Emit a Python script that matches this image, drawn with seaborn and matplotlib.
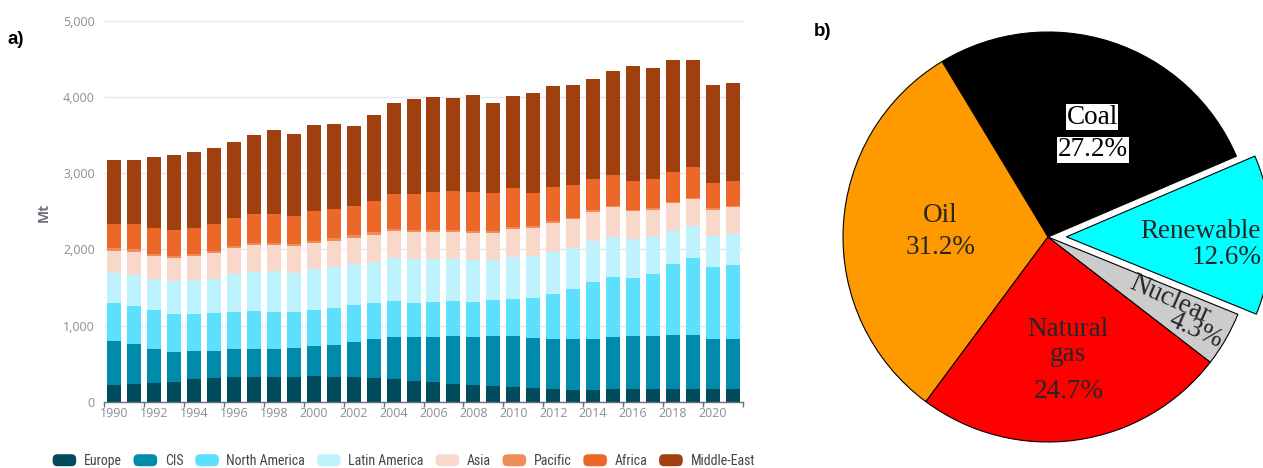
import matplotlib
matplotlib.use("Agg")
import matplotlib.pyplot as plt
from matplotlib import font_manager
from matplotlib.font_manager import FontProperties
from matplotlib.patches import FancyBboxPatch, Patch
from matplotlib.legend_handler import HandlerPatch
from matplotlib.ticker import FixedLocator, FuncFormatter
import pandas as pd
import seaborn as sns

# ---------------- data ----------------
years = list(range(1990, 2022))
regions = ["Europe", "CIS", "North America", "Latin America", "Asia", "Pacific", "Africa", "Middle-East"]

europe = [219, 232, 245, 262, 297, 315, 332, 332, 328, 332, 337, 328, 328, 310, 297, 275,
          258, 240, 227, 214, 197, 182, 170, 162, 162, 170, 175, 175, 170, 170, 175, 170]
cis = [581, 529, 454, 398, 367, 358, 359, 359, 363, 372, 397, 424, 459, 516, 560, 577,
       594, 626, 625, 647, 664, 662, 661, 669, 669, 678, 686, 686, 704, 704, 647, 661]
north_america = [503, 502, 503, 498, 494, 490, 494, 502, 494, 472, 477, 476, 485, 477, 472, 451,
                 459, 463, 459, 477, 494, 524, 590, 655, 743, 787, 765, 822, 931, 1015, 944, 966]
latin_america = [384, 403, 411, 425, 438, 454, 498, 516, 529, 520, 529, 542, 533, 537, 555, 568,
                 569, 546, 547, 529, 542, 544, 542, 538, 542, 533, 507, 481, 442, 419, 407, 402]
asia = [298, 306, 298, 302, 315, 333, 333, 346, 346, 346, 341, 346, 350, 350, 354, 355,
        355, 360, 355, 355, 369, 367, 386, 375, 380, 389, 371, 358, 358, 354, 349, 358]
pacific = [30, 30, 30, 30, 30, 30, 30, 30, 30, 30, 30, 30, 35, 35, 35, 25,
           25, 25, 25, 25, 25, 25, 20, 18, 18, 18, 18, 18, 18, 18, 18, 18]
africa = [324, 337, 345, 345, 345, 350, 371, 381, 380, 372, 389, 390, 385, 415, 459, 481,
          494, 507, 512, 494, 511, 437, 455, 429, 406, 398, 376, 389, 393, 406, 337, 319]
middle_east = [839, 839, 931, 984, 988, 997, 997, 1040, 1102, 1066, 1137, 1110, 1040, 1128, 1189, 1237,
               1246, 1224, 1272, 1180, 1207, 1309, 1316, 1311, 1320, 1372, 1504, 1456, 1474, 1395, 1276, 1294]

region_colors = ["#004b5c", "#008bab", "#5ce0fe", "#bef2fd", "#f8d8ca", "#f08c5a", "#eb6828", "#a0400f"]

sources = ["Coal", "Oil", "Natural\ngas", "Nuclear", "Renewable"]
shares = [27.2, 31.2, 24.7, 4.3, 12.6]
source_colors = ["#000000", "#ff9900", "#ff0000", "#cccccc", "#00ffff"]

# ---------------- style ----------------
sns.set_theme(style="white")
plt.rcParams["font.family"] = ["Open Sans", "DejaVu Sans"]


def narrow_font(size):
    """Look for a condensed sans face for the legend; fall back to Open Sans."""
    wanted = ["liberationsansnarrow-regular", "robotocondensed-regular", "opensans_condensed-regular",
              "opensanscondensed-regular", "dejavusanscondensed.ttf", "notosans-condensed"]
    files = [f.fname for f in font_manager.fontManager.ttflist]
    for key in wanted:
        for fn in files:
            if key in fn.lower().replace(" ", ""):
                return FontProperties(fname=fn, size=size), True
    for fn in files:
        low = fn.lower()
        if ("condensed" in low or "narrow" in low) and "bold" not in low and "italic" not in low \
                and "oblique" not in low and "light" not in low and "mono" not in low and "serif" not in low:
            return FontProperties(fname=fn, size=size), True
    return FontProperties(family=["Open Sans", "DejaVu Sans"], size=size - 1.3), False


W, H = 1263, 468
fig = plt.figure(figsize=(W / 100, H / 100), dpi=100)

# ---------------- a) stacked bars ----------------
x0, x1, y0, y1 = 104, 743, 402, 20.7
ax = fig.add_axes([x0 / W, (H - y0) / H, (x1 - x0) / W, (y0 - y1) / H])

df = pd.DataFrame({"Year": [str(y) for y in years], "Europe": europe, "CIS": cis,
                   "North America": north_america, "Latin America": latin_america,
                   "Asia": asia, "Pacific": pacific, "Africa": africa, "Middle-East": middle_east})
cum = df[regions].cumsum(axis=1)

# draw from the highest running total down so each layer sits on the ones beneath it
for reg, col in reversed(list(zip(regions, region_colors))):
    sns.barplot(x=df["Year"], y=cum[reg], color=col, saturation=1, width=0.7,
                errorbar=None, ax=ax, linewidth=0)

ax.set_xlim(-0.5, 31.5)
ax.set_ylim(0, 5000)
ax.set_xlabel("")
ax.set_ylabel("")
for s in ["top", "right", "left"]:
    ax.spines[s].set_visible(False)
ax.spines["bottom"].set_color("#6e7079")
ax.spines["bottom"].set_linewidth(1.0)

ax.yaxis.set_major_locator(FixedLocator([0, 1000, 2000, 3000, 4000, 5000]))
ax.yaxis.set_major_formatter(FuncFormatter(lambda v, p: f"{int(v):,}"))
ax.grid(axis="y", color="#e3e6ee", linewidth=1.0)
ax.set_axisbelow(True)
ax.tick_params(axis="y", length=0, pad=6.5, labelsize=9, labelcolor="#8a8e96")

label_pos = list(range(0, 32, 2))
ax.set_xticks(label_pos)
ax.set_xticklabels([str(years[i]) for i in label_pos])
ax.xaxis.set_minor_locator(FixedLocator([-0.5 + 2 * k for k in range(16)] + [31.5]))
ax.tick_params(axis="x", which="major", length=0, pad=3.5, labelsize=9, labelcolor="#8a8e96")
ax.tick_params(axis="x", which="minor", length=3.5, width=1.0, color="#6e7079", bottom=True)

fig.text(44 / W, 1 - 212 / H, "Mt", rotation=90, ha="center", va="center",
         fontsize=10, fontweight="bold", color="#6e7079")
fig.text(8 / W, 1 - 40 / H, "a)", ha="left", va="center", fontsize=13.5, fontweight="bold",
         color="black", family=["Liberation Sans", "DejaVu Sans"])


class RoundHandler(HandlerPatch):
    def create_artists(self, legend, orig_handle, xdescent, ydescent, width, height, fontsize, trans):
        p = FancyBboxPatch((-xdescent + 1, -ydescent), width - 2, height,
                           boxstyle="round,pad=0,rounding_size=3.5",
                           facecolor=orig_handle.get_facecolor(), edgecolor="none", transform=trans)
        return [p]


leg_prop, is_narrow = narrow_font(10)
handles = [Patch(facecolor=c, label=r) for r, c in zip(regions, region_colors)]
leg = fig.legend(handles=handles, loc="center", bbox_to_anchor=(403 / W, 1 - 461 / H), ncol=8,
                 frameon=False, handlelength=1.9 if is_narrow else 2.1,
                 handleheight=0.95 if is_narrow else 1.05, handletextpad=0.45,
                 columnspacing=0.75 if is_narrow else 0.7, handler_map={Patch: RoundHandler()},
                 prop=leg_prop)
for t in leg.get_texts():
    t.set_color("#444444")

# ---------------- b) pie ----------------
cx, cy, R = 1048, 237, 205
half = 240
pax = fig.add_axes([(cx - half) / W, (H - cy - half) / H, 2 * half / W, 2 * half / H])
explode = [0, 0, 0, 0, 0.09]
pax.pie(shares, colors=source_colors, explode=explode, startangle=23.2, counterclock=True,
        wedgeprops=dict(edgecolor="black", linewidth=0.8))
pax.set_xlim(-half / R, half / R)
pax.set_ylim(-half / R, half / R)
pax.set_aspect("equal")
pax.axis("off")


def to_data(px, py):
    return (px - cx) / R, (cy - py) / R


serif = ["Liberation Serif", "DejaVu Serif"]
fs = 19.5
pct = [f"{v:.1f}%" for v in shares]
white_box = dict(boxstyle="square,pad=0.02", facecolor="white", edgecolor="none")

# Coal
pax.text(*to_data(1092, 117), sources[0], ha="center", va="center", fontsize=fs, family=serif,
         color="black", bbox=white_box)
pax.text(*to_data(1093, 150), pct[0], ha="center", va="center", fontsize=fs, family=serif,
         color="black", bbox=white_box)
# Oil
pax.text(*to_data(940, 216), sources[1], ha="center", va="center", fontsize=fs, family=serif)
pax.text(*to_data(941, 248), pct[1], ha="center", va="center", fontsize=fs, family=serif)
# Natural gas
pax.text(*to_data(1068, 342), sources[2], ha="center", va="center", fontsize=fs, family=serif,
         linespacing=0.95)
pax.text(*to_data(1069, 392), pct[2], ha="center", va="center", fontsize=fs, family=serif)
# Nuclear
pax.text(*to_data(1170, 299), sources[3], ha="center", va="center", fontsize=fs, family=serif,
         rotation=-24, rotation_mode="anchor")
pax.text(*to_data(1196, 331), pct[3], ha="center", va="center", fontsize=fs, family=serif,
         rotation=-24, rotation_mode="anchor")
# Renewable
pax.text(*to_data(1261, 232), sources[4], ha="right", va="center", fontsize=fs, family=serif)
pax.text(*to_data(1261, 257), pct[4], ha="right", va="center", fontsize=fs, family=serif)

fig.text(814 / W, 1 - 32 / H, "b)", ha="left", va="center", fontsize=13.5, fontweight="bold",
         color="black", family=["Liberation Sans", "DejaVu Sans"])

fig.savefig("out.png", dpi=100)
